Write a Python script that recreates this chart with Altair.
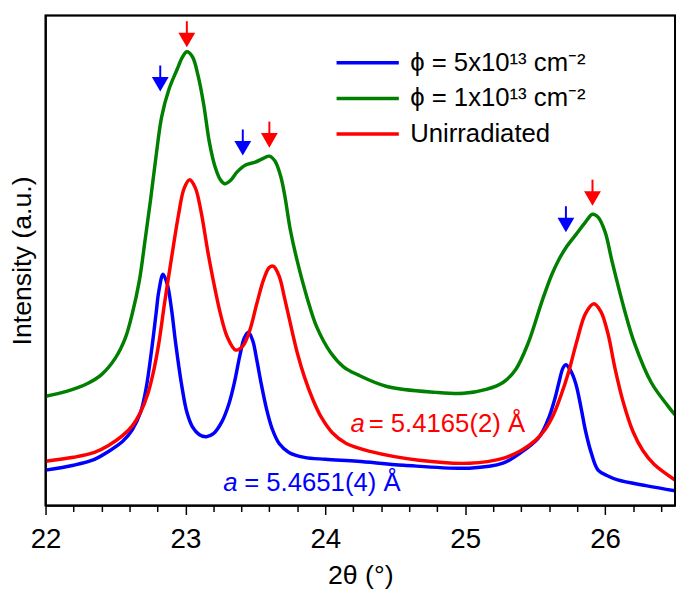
import altair as alt
import pandas as pd

# ---------------- data ----------------
SERIES = ["ϕ = 5x10¹³ cm⁻²", "ϕ = 1x10¹³ cm⁻²", "Unirradiated"]
COLORS = ["#0000FF", "#007F00", "#FF0000"]

blue_x = [22.00, 22.20, 22.35, 22.45, 22.55, 22.62, 22.68, 22.72, 22.76, 22.79, 22.81, 22.84,
          22.87, 22.90, 22.93, 22.97, 23.01, 23.05, 23.10, 23.15, 23.20, 23.26, 23.31, 23.35,
          23.39, 23.42, 23.45, 23.48, 23.51, 23.54, 23.58, 23.62, 23.67, 23.74, 23.85, 24.00,
          24.23, 24.56, 25.03, 25.27, 25.41, 25.52, 25.56, 25.60, 25.64, 25.67, 25.70, 25.72,
          25.75, 25.79, 25.83, 25.86, 25.90, 25.95, 26.02, 26.09, 26.30, 26.50]
blue_y = [36, 41, 47, 55, 65, 77, 95, 120, 160, 195, 218, 235,
          225, 200, 165, 125, 95, 80, 72, 70, 73, 85, 103, 125,
          153, 170, 176, 168, 148, 125, 98, 78, 63, 54, 49, 47,
          45, 41, 38, 43, 55, 68, 77, 90, 108, 125, 140, 143,
          138, 124, 98, 76, 54, 36, 30, 26, 20, 15]

green_x = [22.00, 22.15, 22.30, 22.40, 22.50, 22.57, 22.62, 22.67, 22.71, 22.75, 22.79, 22.83,
           22.88, 22.94, 22.98, 23.01, 23.05, 23.09, 23.13, 23.17, 23.21, 23.25, 23.28, 23.32,
           23.37, 23.43, 23.50, 23.56, 23.60, 23.64, 23.68, 23.71, 23.75, 23.80, 23.87, 23.94,
           24.04, 24.13, 24.23, 24.44, 24.79, 24.99, 25.15, 25.27, 25.36, 25.45, 25.55, 25.62,
           25.67, 25.72, 25.79, 25.86, 25.91, 25.95, 26.00, 26.05, 26.14, 26.21, 26.33, 26.45,
           26.50]
green_y = [111, 116, 124, 133, 150, 170, 195, 228, 268, 310, 355, 395,
           422, 443, 456, 461, 456, 437, 408, 370, 345, 331, 327, 330,
           339, 346, 349, 353, 355, 350, 335, 315, 280, 248, 211, 181,
           155, 141, 133, 121, 115, 114, 118, 125, 138, 165, 208, 235,
           250, 262, 275, 288, 296, 293, 278, 248, 198, 165, 125, 101,
           92]

red_x = [22.00, 22.20, 22.35, 22.45, 22.55, 22.62, 22.68, 22.73, 22.77, 22.81, 22.85, 22.90,
         22.95, 22.99, 23.03, 23.07, 23.11, 23.16, 23.20, 23.25, 23.30, 23.36, 23.41, 23.46,
         23.51, 23.56, 23.60, 23.63, 23.67, 23.71, 23.75, 23.80, 23.85, 23.91, 23.97, 24.05,
         24.15, 24.32, 24.67, 25.03, 25.27, 25.40, 25.50, 25.57, 25.63, 25.68, 25.74, 25.80,
         25.86, 25.92, 25.97, 26.02, 26.07, 26.13, 26.20, 26.27, 26.35, 26.50]
red_y = [45, 49, 54, 61, 71, 81, 95, 113, 135, 165, 205, 251,
         295, 322, 331, 323, 300, 258, 228, 195, 171, 158, 162, 178,
         205, 230, 242, 243, 233, 210, 185, 155, 131, 108, 90, 74,
         63, 55, 46, 43, 48, 56, 66, 77, 92, 110, 136, 168,
         195, 205, 197, 175, 140, 105, 75, 56, 42, 26]

arrow_x = [22.82, 23.01, 23.41, 23.60, 25.72, 25.91]
arrow_tip = [421, 466, 356, 364, 278, 305]
arrow_color = ["#0000FF", "#FF0000", "#0000FF", "#FF0000", "#0000FF", "#FF0000"]

ann_a_x = [24.18, 23.27]
ann_rest_x = [24.31, 23.42]
ann_y = [75, 15]
ann_text = ["= 5.4165(2) Å", "= 5.4651(4) Å"]
ann_color = ["#FF0000", "#0000FF"]

x_domain = [22, 26.5]
y_domain = [0, 498]
major_ticks = [22, 23, 24, 25, 26]
minor_ticks = [22.2, 22.4, 22.6, 22.8, 23.2, 23.4, 23.6, 23.8, 24.2, 24.4, 24.6, 24.8,
               25.2, 25.4, 25.6, 25.8, 26.2, 26.4]

# ---------------- tables ----------------
rows = []
for name, xs, ys in [(SERIES[0], blue_x, blue_y), (SERIES[1], green_x, green_y),
                     (SERIES[2], red_x, red_y)]:
    for i, (a, b) in enumerate(zip(xs, ys)):
        rows.append({"x": a, "y": b, "series": name, "order": i})
lines_df = pd.DataFrame(rows)

arrows_df = pd.DataFrame({"x": arrow_x, "y": arrow_tip, "c": arrow_color})
ann_df = pd.DataFrame({"ax": ann_a_x, "rx": ann_rest_x, "y": ann_y,
                       "t": ann_text, "c": ann_color})
frame_df = pd.DataFrame({"x": [x_domain[0]], "x2": [x_domain[1]],
                         "y": [y_domain[0]], "y2": [y_domain[1]]})

FONT = "Liberation Sans"
xscale = alt.Scale(domain=x_domain, nice=False, zero=False)
yscale = alt.Scale(domain=y_domain, nice=False, zero=False)

lines = alt.Chart(lines_df).mark_line(strokeWidth=3.5, clip=True,
                                      interpolate="catmull-rom").encode(
    x=alt.X("x:Q", scale=xscale,
            axis=alt.Axis(values=major_ticks, orient="bottom", title="2θ (°)",
                          tickSize=9, tickWidth=1.5, labelPadding=11,
                          labelFontSize=28, titleFontSize=27, titlePadding=10,
                          labelFlush=False, grid=False, domain=True,
                          domainWidth=1.5, domainColor="black", tickColor="black",
                          labelColor="black", titleColor="black",
                          titleFontWeight="normal", labelFont=FONT, titleFont=FONT)),
    y=alt.Y("y:Q", scale=yscale,
            axis=alt.Axis(title="Intensity (a.u.)", orient="left", ticks=False,
                          labels=False, grid=False, domain=True, domainWidth=1.5,
                          domainColor="black", titlePadding=9,
                          titleFontSize=27, titleFont=FONT, titleColor="black",
                          titleFontWeight="normal")),
    color=alt.Color("series:N",
                    scale=alt.Scale(domain=SERIES, range=COLORS),
                    sort=SERIES,
                    legend=alt.Legend(title=None, orient="none", legendX=313,
                                      legendY=35, symbolType="M-3,0H3",
                                      symbolSize=441, symbolStrokeWidth=3.5,
                                      labelFontSize=26, labelFont=FONT,
                                      labelColor="black", labelOffset=30,
                                      labelLimit=400,
                                      rowPadding=10, padding=0)),
    order="order:Q",
    detail="series:N",
)

minor = alt.Chart(lines_df).mark_line(opacity=0).encode(
    x=alt.X("x:Q", scale=xscale,
            axis=alt.Axis(values=minor_ticks, orient="bottom", labels=False, title=None,
                          tickSize=6, tickWidth=1.5, grid=False, domain=False,
                          tickColor="black")),
    y=alt.Y("y:Q", scale=yscale, axis=None),
    detail="series:N",
)

# plot frame, drawn through the scales at the domain limits
frame = alt.Chart(frame_df).mark_rect(fill="transparent", stroke="#000000",
                                      strokeWidth=2).encode(
    x=alt.X("x:Q", scale=xscale, axis=None),
    x2="x2:Q",
    y=alt.Y("y:Q", scale=yscale, axis=None),
    y2="y2:Q",
)

shaft = alt.Chart(arrows_df).mark_rule(strokeWidth=2, yOffset=-12, y2Offset=-26).encode(
    x=alt.X("x:Q", scale=xscale, axis=None),
    y=alt.Y("y:Q", scale=yscale, axis=None),
    y2="y:Q",
    color=alt.Color("c:N", scale=None),
)

head = alt.Chart(arrows_df).mark_point(shape="triangle-down", filled=True, size=289,
                                       opacity=1, yOffset=-7).encode(
    x=alt.X("x:Q", scale=xscale, axis=None),
    y=alt.Y("y:Q", scale=yscale, axis=None),
    color=alt.Color("c:N", scale=None),
)

ann_a = alt.Chart(ann_df).mark_text(text="a", fontStyle="italic", fontSize=26, font=FONT,
                                    align="left", baseline="alphabetic").encode(
    x=alt.X("ax:Q", scale=xscale, axis=None),
    y=alt.Y("y:Q", scale=yscale, axis=None),
    color=alt.Color("c:N", scale=None),
)

ann_rest = alt.Chart(ann_df).mark_text(fontSize=26, font=FONT, align="left",
                                       baseline="alphabetic").encode(
    x=alt.X("rx:Q", scale=xscale, axis=None),
    y=alt.Y("y:Q", scale=yscale, axis=None),
    text="t:N",
    color=alt.Color("c:N", scale=None),
)

chart = alt.layer(lines, minor, frame, shaft, head, ann_a, ann_rest).resolve_axis(
    x="independent", y="independent"
).resolve_scale(color="independent").properties(
    width=637, height=496,
    autosize=alt.AutoSizeParams(type="none"),
    padding={"left": 38, "top": 4, "right": 2, "bottom": 85},
).configure(
    background="white",
    view=alt.ViewConfig(stroke="#000000", strokeWidth=1.5),
)

chart.save("out.html", embed_options={"renderer": "svg", "actions": False})
